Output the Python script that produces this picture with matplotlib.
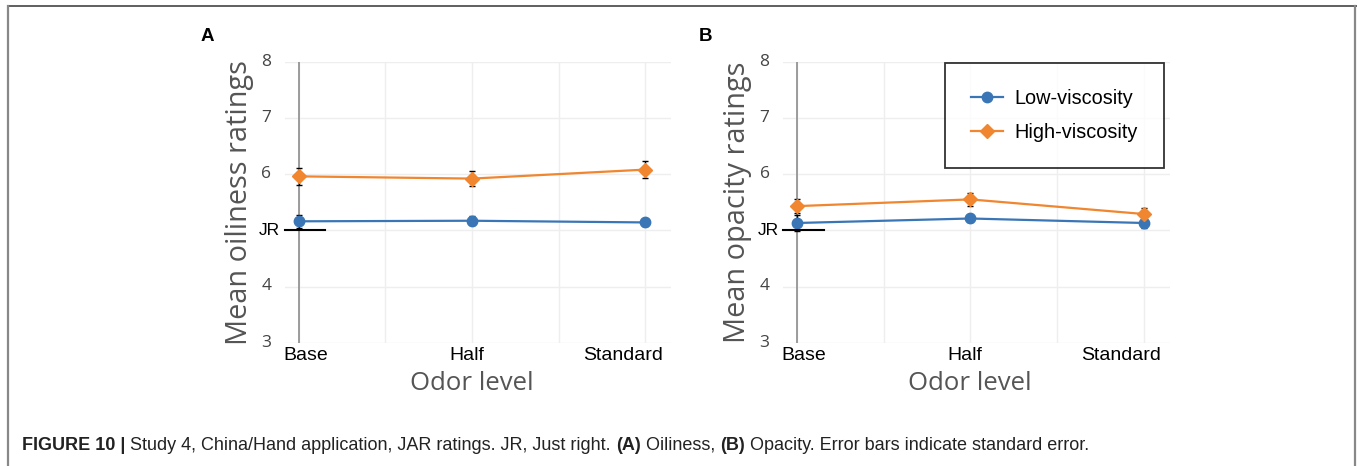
import numpy as np
import matplotlib.pyplot as plt
import matplotlib.transforms as mtransforms
from matplotlib.lines import Line2D

# data
odor_levels = ["Base", "Half", "Standard"]
series_names = ["Low-viscosity", "High-viscosity"]

oil_low = [5.16, 5.17, 5.14]
oil_low_se = [0.12, 0.08, 0.06]
oil_high = [5.96, 5.92, 6.08]
oil_high_se = [0.15, 0.14, 0.145]

opa_low = [5.13, 5.21, 5.13]
opa_low_se = [0.14, 0.07, 0.09]
opa_high = [5.43, 5.55, 5.29]
opa_high_se = [0.12, 0.12, 0.11]

y_ticks = [3, 4, 6, 7, 8]
jr_value = 5

BLUE = "#3a76b6"
ORANGE = "#f0862f"
GRAY_TXT = "#555555"

W, H = 1357, 466
fig = plt.figure(figsize=(W / 100, H / 100), dpi=100)

# outer frame (top, left, right)
fig.add_artist(Line2D([7.5 / W, 1 + 0.01], [1 - 6 / H, 1 - 6 / H], color="#444444", lw=1.2))
fig.add_artist(Line2D([7.5 / W, 7.5 / W], [0, 1 - 6 / H], color="#888888", lw=1.6))
fig.add_artist(Line2D([1355 / W, 1355 / W], [0, 1 - 6 / H], color="#888888", lw=1.6))


def make_panel(ax, low, low_se, high, high_se, ylabel, letter, legend=False):
    x = np.arange(len(odor_levels))
    ax.set_xlim(-0.08, 2.15)
    ax.set_ylim(3, 8)
    for s in ax.spines.values():
        s.set_visible(False)

    ax.set_xticks(np.arange(0, 2.01, 0.5))
    ax.set_yticks([3, 4, 5, 6, 7, 8])
    ax.grid(True, color="#eeeeee", lw=1)
    ax.tick_params(length=0)
    ax.set_xticklabels([])
    ax.set_yticklabels([])
    ax.set_axisbelow(True)

    # y-axis line at x = 0
    ax.axvline(0, color="#8c8c8c", lw=1.2, zorder=1)

    # y tick labels (numbers)
    ytrans = mtransforms.blended_transform_factory(ax.transAxes, ax.transData)
    for v in y_ticks:
        ax.text(-0.035, v, str(v), transform=ytrans, ha="right", va="center",
                fontsize=12.5, color="#444444", family="Open Sans")
    # JR mark
    ax.text(-0.012, jr_value, "JR", transform=ytrans, ha="right", va="center",
            fontsize=12.5, color="black", family="Liberation Sans")
    ax.plot([0, 0.105], [jr_value, jr_value], transform=ytrans, color="black",
            lw=1.5, clip_on=False, zorder=4)

    # x category labels
    xtrans = mtransforms.blended_transform_factory(ax.transData, ax.transAxes)
    shifts = [0.04, -0.03, -0.13]
    for xi, lab, sh in zip(x, odor_levels, shifts):
        ax.text(xi + sh, -0.044, lab, transform=xtrans, ha="center", va="center",
                fontsize=14, color="black", family="Liberation Sans")

    ax.text(1, -0.145, "Odor level", transform=xtrans, ha="center", va="center",
            fontsize=18.5, color=GRAY_TXT, family="Open Sans")
    ax.text(-0.118, 0.5, ylabel, transform=ax.transAxes, rotation=90,
            ha="center", va="center", fontsize=20.8, color=GRAY_TXT, family="Open Sans")

    ax.errorbar(x, low, yerr=low_se, color=BLUE, marker="o", ms=7.5, lw=1.6,
                ecolor="black", elinewidth=1, capsize=2.5, capthick=1,
                label=series_names[0], zorder=3)
    ax.errorbar(x, high, yerr=high_se, color=ORANGE, marker="D", ms=7, lw=1.6,
                ecolor="black", elinewidth=1, capsize=2.5, capthick=1,
                label=series_names[1], zorder=3)

    ax.text(-0.219, 1.09, letter, transform=ax.transAxes, ha="left", va="center",
            fontsize=13.5, fontweight="bold", family="Liberation Sans")

    if legend:
        handles = [Line2D([], [], color=BLUE, marker="o", ms=7.5, lw=1.6),
                   Line2D([], [], color=ORANGE, marker="D", ms=7, lw=1.6)]
        leg = ax.legend(handles, series_names, loc="upper right",
                        bbox_to_anchor=(0.985, 0.995), frameon=True, fancybox=False,
                        edgecolor="black", borderpad=1.3, handlelength=1.6,
                        handletextpad=0.6, labelspacing=0.75, borderaxespad=0,
                        prop={"family": "Liberation Sans", "size": 14.3})
        leg.get_frame().set_linewidth(1.3)
        leg.set_zorder(10)


ax_h = (342.7 - 61.7) / H
ax_b = (H - 342.7) / H
ax_w = 386.5 / W
axA = fig.add_axes([284.8 / W, ax_b, ax_w, ax_h])
axB = fig.add_axes([783.1 / W, ax_b, ax_w, ax_h])

make_panel(axA, oil_low, oil_low_se, oil_high, oil_high_se,
           "Mean oiliness ratings", "A")
make_panel(axB, opa_low, opa_low_se, opa_high, opa_high_se,
           "Mean opacity ratings", "B", legend=True)

# caption with mixed bold / regular pieces
caption_parts = [
    ("FIGURE 10 | ", "bold"),
    ("Study 4, China/Hand application, JAR ratings. JR, Just right. ", "normal"),
    ("(A)", "bold"),
    (" Oiliness, ", "normal"),
    ("(B)", "bold"),
    (" Opacity. Error bars indicate standard error.", "normal"),
]
fig.canvas.draw()
renderer = fig.canvas.get_renderer()
xpos = 22 / W
for txt, wt in caption_parts:
    t = fig.text(xpos, 1 - 450 / H, txt, ha="left", va="baseline", fontsize=13.0,
                 fontweight=wt, color="#222222", family="Liberation Sans")
    bb = t.get_window_extent(renderer=renderer)
    xpos += bb.width / W

fig.savefig("out.png", dpi=100)
